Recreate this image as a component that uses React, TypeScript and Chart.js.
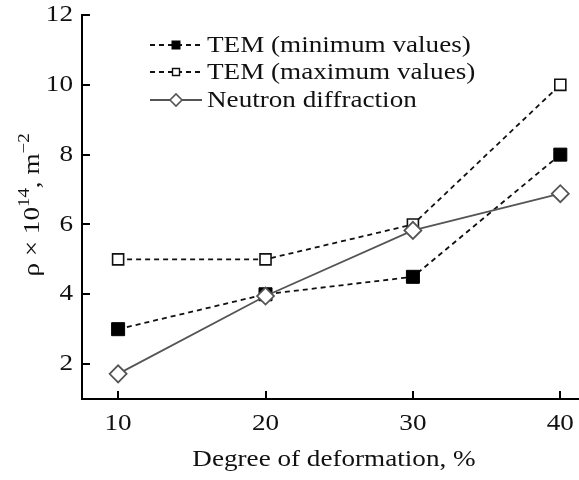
import React, { useEffect, useRef } from "react";
import { Chart, registerables } from "chart.js";

Chart.register(...registerables);

const deformation = [10, 20, 30, 40];
const temMin = [3, 4, 4.5, 8];
const temMax = [5, 5, 6, 10];
const neutron = [1.72, 3.95, 5.83, 6.88];
const seriesLabels = ["TEM (minimum values)", "TEM (maximum values)", "Neutron diffraction"];
const yTicks = [2, 4, 6, 8, 10, 12];
const xTicks = [10, 20, 30, 40];

const FONT = '"Liberation Serif", "Times New Roman", serif';
const SX = 1.18;

function drawMarker(ctx: CanvasRenderingContext2D, kind: string, x: number, y: number, s: number, stroke: string, fill: string, lw: number) {
  ctx.save();
  ctx.lineWidth = lw;
  ctx.strokeStyle = stroke;
  ctx.fillStyle = fill;
  ctx.setLineDash([]);
  ctx.beginPath();
  if (kind === "diamond") {
    ctx.moveTo(x - s, y);
    ctx.lineTo(x, y - s);
    ctx.lineTo(x + s, y);
    ctx.lineTo(x, y + s);
    ctx.closePath();
  } else {
    ctx.rect(x - s, y - s, 2 * s, 2 * s);
  }
  ctx.fill();
  ctx.stroke();
  ctx.restore();
}

// draw horizontally stretched text
function sText(ctx: CanvasRenderingContext2D, text: string, x: number, y: number, align: CanvasTextAlign, size: number) {
  ctx.save();
  ctx.font = `${size}px ${FONT}`;
  ctx.fillStyle = "#111";
  ctx.textAlign = align;
  ctx.textBaseline = "middle";
  ctx.translate(x, y);
  ctx.scale(SX, 1);
  ctx.fillText(text, 0, 0);
  ctx.restore();
}

const decorPlugin = {
  id: "decor",
  afterDraw(chart: any) {
    const ctx: CanvasRenderingContext2D = chart.ctx;
    const xs = chart.scales.x;
    const ys = chart.scales.y;
    const area = chart.chartArea;
    ctx.save();
    // inward ticks
    ctx.strokeStyle = "#000";
    ctx.lineWidth = 2;
    ctx.setLineDash([]);
    ctx.beginPath();
    for (const v of yTicks) {
      const py = Math.round(ys.getPixelForValue(v));
      ctx.moveTo(area.left, py);
      ctx.lineTo(area.left + 8, py);
    }
    for (const v of xTicks) {
      const px = Math.round(xs.getPixelForValue(v));
      ctx.moveTo(px, area.bottom);
      ctx.lineTo(px, area.bottom - 8);
    }
    ctx.stroke();

    // tick labels
    for (const v of yTicks) {
      sText(ctx, String(v), area.left - 9, ys.getPixelForValue(v), "right", 23);
    }
    for (const v of xTicks) {
      sText(ctx, String(v), xs.getPixelForValue(v), area.bottom + 25, "center", 23);
    }

    // x axis title
    sText(ctx, "Degree of deformation, %", 334, 460, "center", 23);

    // y title with superscripts
    ctx.save();
    ctx.translate(31, 205);
    ctx.rotate(-Math.PI / 2);
    ctx.scale(SX, 1);
    ctx.fillStyle = "#111";
    const parts: [string, boolean][] = [["ρ × 10", false], ["14", true], [", m", false], ["−2", true]];
    const big = `23px ${FONT}`;
    const small = `16px ${FONT}`;
    let total = 0;
    for (const [t, sup] of parts) {
      ctx.font = sup ? small : big;
      total += ctx.measureText(t).width;
    }
    let cx = -total / 2;
    ctx.textAlign = "left";
    ctx.textBaseline = "alphabetic";
    for (const [t, sup] of parts) {
      ctx.font = sup ? small : big;
      ctx.fillText(t, cx, sup ? -2 : 8);
      cx += ctx.measureText(t).width;
    }
    ctx.restore();

    // legend
    const rows = [45, 72, 100];
    chart.data.datasets.forEach((ds: any, i: number) => {
      const y = rows[i];
      ctx.save();
      ctx.strokeStyle = ds.borderColor;
      ctx.lineWidth = ds.borderWidth;
      ctx.setLineDash(ds.borderDash || []);
      ctx.beginPath();
      ctx.moveTo(150, y);
      ctx.lineTo(202, y);
      ctx.stroke();
      ctx.restore();
      const kind = i === 2 ? "diamond" : "square";
      const s = i === 0 ? 3.8 : i === 1 ? 3.5 : 6;
      drawMarker(ctx, kind, 176, y, s, ds.pointBorderColor, ds.pointBackgroundColor, i === 2 ? 1.6 : 1.4);
      sText(ctx, seriesLabels[i], 207, y + 1, "left", 23);
    });
    ctx.restore();
  },
};

export default function App() {
  const ref = useRef<HTMLCanvasElement>(null);
  useEffect(() => {
    const toPts = (arr: number[]) => arr.map((v, i) => ({ x: deformation[i], y: v }));
    const chart = new Chart(ref.current!, {
      type: "line",
      data: {
        datasets: [
          {
            label: seriesLabels[0],
            data: toPts(temMin),
            borderColor: "#111",
            borderWidth: 1.8,
            borderDash: [5, 4],
            pointStyle: "rect",
            pointRadius: 9.2,
            pointBackgroundColor: "#000",
            pointBorderColor: "#000",
            pointBorderWidth: 1,
            order: 2,
            clip: false,
          },
          {
            label: seriesLabels[1],
            data: toPts(temMax),
            borderColor: "#111",
            borderWidth: 1.8,
            borderDash: [5, 4],
            pointStyle: "rect",
            pointRadius: 7.8,
            pointBackgroundColor: "#fff",
            pointBorderColor: "#111",
            pointBorderWidth: 1.6,
            order: 1,
            clip: false,
          },
          {
            label: seriesLabels[2],
            data: toPts(neutron),
            borderColor: "#555",
            borderWidth: 1.8,
            pointStyle: "rectRot",
            pointRadius: 8.5,
            pointBackgroundColor: "#fff",
            pointBorderColor: "#555",
            pointBorderWidth: 1.8,
            order: 0,
            clip: false,
          },
        ],
      },
      options: {
        responsive: false,
        animation: false,
        layout: { autoPadding: false, padding: { top: 15, right: 1, left: 0, bottom: 0 } },
        plugins: { legend: { display: false }, tooltip: { enabled: false } },
        scales: {
          x: {
            type: "linear",
            min: 7.55,
            max: 41.2,
            afterFit: (s: any) => { s.height = 81; },
            afterBuildTicks: (s: any) => { s.ticks = xTicks.map((v) => ({ value: v })); },
            grid: { display: false, drawTicks: false },
            border: { display: true, color: "#000", width: 2 },
            ticks: { display: false },
          },
          y: {
            type: "linear",
            min: 1,
            max: 12,
            afterFit: (s: any) => { s.width = 82; },
            afterBuildTicks: (s: any) => { s.ticks = yTicks.map((v) => ({ value: v })); },
            grid: { display: false, drawTicks: false },
            border: { display: true, color: "#000", width: 2 },
            ticks: { display: false },
          },
        },
      },
      plugins: [decorPlugin],
    } as any);
    return () => chart.destroy();
  }, []);
  return (
    <div style={{ position: "fixed", left: 0, top: 0, width: 579, height: 480, background: "#fff" }}>
      <canvas ref={ref} width={579} height={480} style={{ display: "block" }} />
    </div>
  );
}
